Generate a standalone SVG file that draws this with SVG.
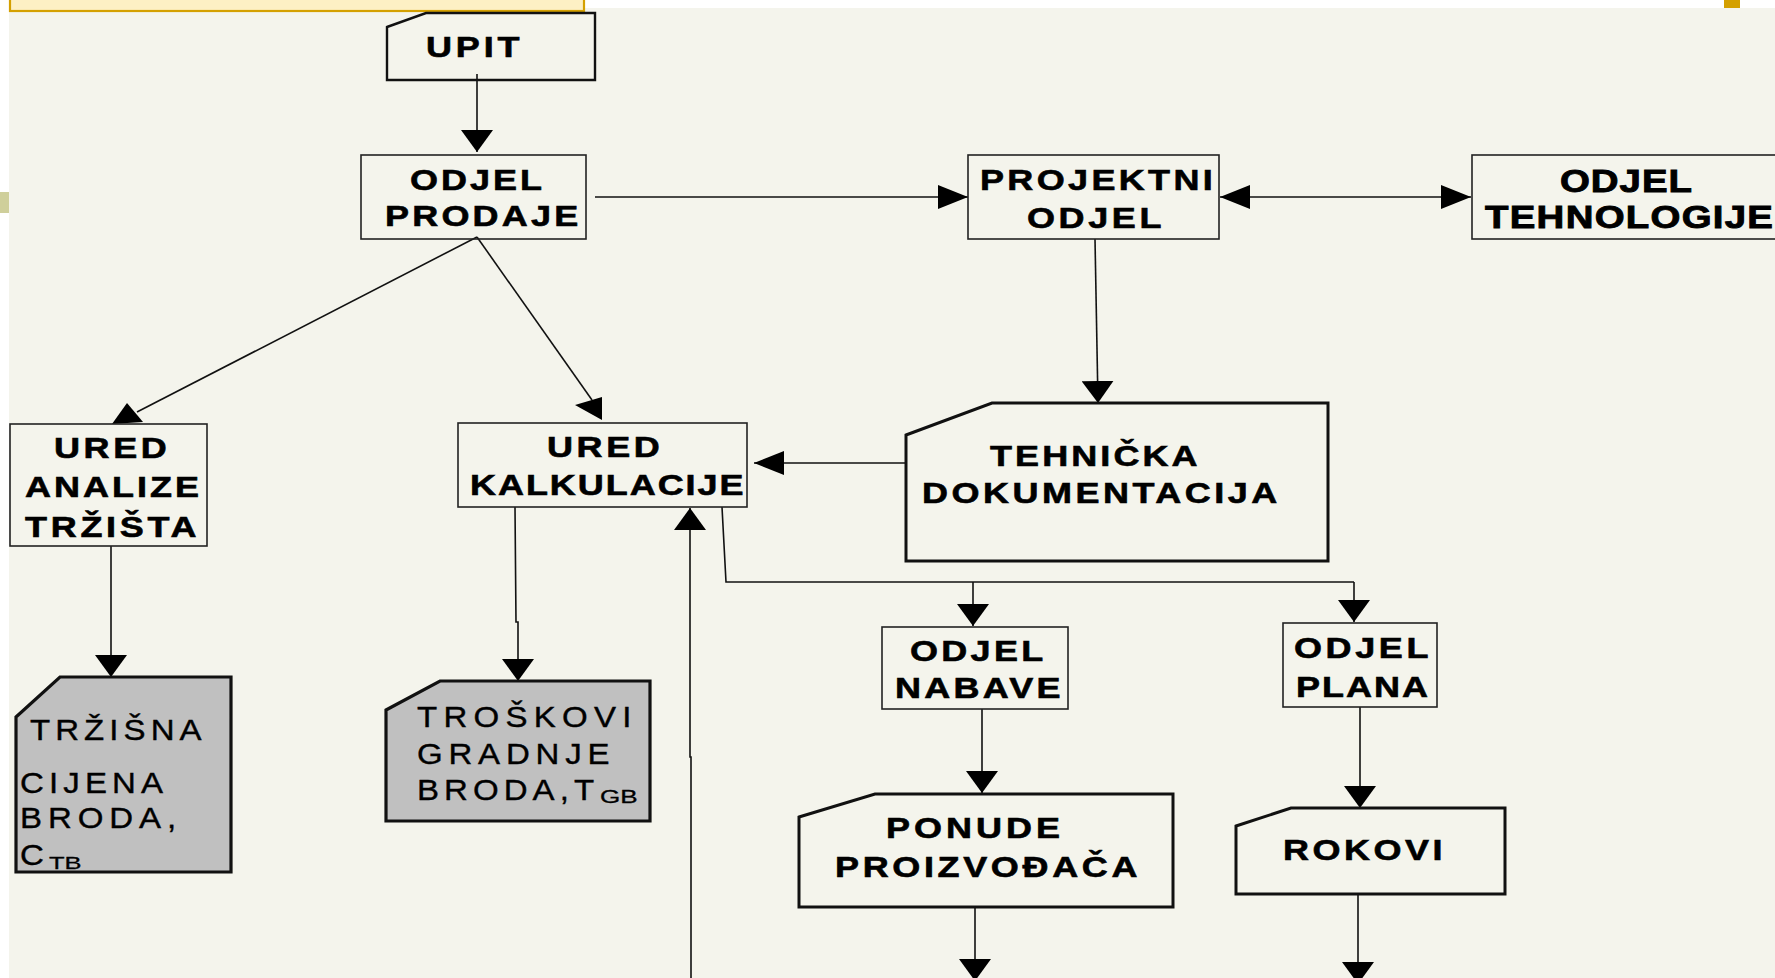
<svg xmlns="http://www.w3.org/2000/svg" width="1775" height="978" viewBox="0 0 1775 978">
<style>
.bx{fill:none;stroke:#222;stroke-width:1.6}
.doc{fill:none;stroke:#111;stroke-width:3;stroke-linejoin:miter}
.docg{fill:#c0c0c0;stroke:#111;stroke-width:3.2}
.ln{fill:none;stroke:#111;stroke-width:1.6}
.t{font-family:"Liberation Sans",Arial,sans-serif;font-weight:bold;font-size:30px;fill:#000;stroke:#000;stroke-width:0.6}
.tn{font-family:"Liberation Sans",Arial,sans-serif;font-weight:normal;font-size:30px;fill:#000;stroke:#000;stroke-width:0.4}
.sub{font-family:"Liberation Sans",Arial,sans-serif;font-size:17px;fill:#000;stroke:#000;stroke-width:0.3}
.ah{fill:#000}
</style>
<defs>
<marker id="av" markerUnits="userSpaceOnUse" viewBox="0 0 22 32" refX="22" refY="16" markerWidth="22" markerHeight="32" orient="auto"><path d="M0,0 L22,16 L0,32 z" fill="#000"/></marker>
<marker id="ahz" markerUnits="userSpaceOnUse" viewBox="0 0 30 24" refX="30" refY="12" markerWidth="30" markerHeight="24" orient="auto"><path d="M0,0 L30,12 L0,24 z" fill="#000"/></marker>
<marker id="ahzs" markerUnits="userSpaceOnUse" viewBox="0 0 30 24" refX="30" refY="12" markerWidth="30" markerHeight="24" orient="auto-start-reverse"><path d="M0,0 L30,12 L0,24 z" fill="#000"/></marker>
</defs>
<rect x="0" y="0" width="1775" height="978" fill="#ffffff"/>
<rect x="9" y="8" width="1766" height="970" fill="#f4f4ec"/>
<rect x="0" y="192" width="9" height="21" fill="#cfcf9b"/>
<rect x="1724" y="0" width="16" height="8" fill="#d4a000"/>
<rect x="10" y="-4" width="574" height="15" fill="#fdf0c4" stroke="#d4a000" stroke-width="2.2"/>

<g id="connectors">
<line class="ln" x1="477" y1="74" x2="477" y2="152" marker-end="url(#av)"/>
<line class="ln" x1="595" y1="197" x2="968" y2="197" marker-end="url(#ahz)"/>
<line class="ln" x1="1220" y1="197" x2="1471" y2="197" marker-start="url(#ahzs)" marker-end="url(#ahz)"/>
<line class="ln" x1="477" y1="237" x2="137" y2="412"/>
<polygon class="ah" points="112,424 143,422 127,403"/>
<line class="ln" x1="477" y1="237" x2="592" y2="400"/>
<polygon class="ah" points="575,405 602,397 602,420"/>
<polyline class="ln" points="1095,239 1098,403" marker-end="url(#av)"/>
<line class="ln" x1="906" y1="463" x2="754" y2="463" marker-end="url(#ahz)"/>
<line class="ln" x1="111" y1="546" x2="111" y2="677" marker-end="url(#av)"/>
<polyline class="ln" points="515,507 516,622 518,622 518,681" marker-end="url(#av)"/>
<polyline class="ln" points="691,980 691,757 690,757 690,508" marker-end="url(#av)"/>
<polyline class="ln" points="722,507 726,582 1354,582"/>
<line class="ln" x1="973" y1="582" x2="973" y2="626" marker-end="url(#av)"/>
<line class="ln" x1="1354" y1="582" x2="1354" y2="622" marker-end="url(#av)"/>
<line class="ln" x1="982" y1="709" x2="982" y2="793" marker-end="url(#av)"/>
<line class="ln" x1="1360" y1="707" x2="1360" y2="808" marker-end="url(#av)"/>
<line class="ln" x1="975" y1="907" x2="975" y2="981" marker-end="url(#av)"/>
<line class="ln" x1="1358" y1="894" x2="1358" y2="984" marker-end="url(#av)"/>
</g>

<g id="upit">
<polygon class="doc" style="stroke-width:2.4" points="387,27 426,13 595,13 595,80 387,80"/>
<text class="t" transform="translate(426,57) scale(1.2,1)" textLength="78" lengthAdjust="spacing">UPIT</text>
</g>
<g id="odjel-prodaje">
<rect class="bx" x="361" y="155" width="225" height="84"/>
<text class="t" transform="translate(410,190) scale(1.2,1)" textLength="110" lengthAdjust="spacing">ODJEL</text>
<text class="t" transform="translate(385,226) scale(1.2,1)" textLength="161" lengthAdjust="spacing">PRODAJE</text>
</g>
<g id="projektni-odjel">
<rect class="bx" x="968" y="155" width="251" height="84"/>
<text class="t" transform="translate(980,190) scale(1.2,1)" textLength="194" lengthAdjust="spacing">PROJEKTNI</text>
<text class="t" transform="translate(1027,228) scale(1.2,1)" textLength="112" lengthAdjust="spacing">ODJEL</text>
</g>
<g id="odjel-tehnologije">
<rect class="bx" x="1472" y="155" width="330" height="84"/>
<text class="t" style="font-size:32px;stroke-width:0.9" transform="translate(1560,192) scale(1.2,1)" textLength="110" lengthAdjust="spacing">ODJEL</text>
<text class="t" style="font-size:32px;stroke-width:0.9" transform="translate(1485,228) scale(1.2,1)" textLength="240" lengthAdjust="spacing">TEHNOLOGIJE</text>
</g>
<g id="ured-analize">
<rect class="bx" x="10" y="424" width="197" height="122"/>
<text class="t" transform="translate(54,458) scale(1.2,1)" textLength="94" lengthAdjust="spacing">URED</text>
<text class="t" transform="translate(25,497) scale(1.2,1)" textLength="145" lengthAdjust="spacing">ANALIZE</text>
<text class="t" transform="translate(25,537) scale(1.2,1)" textLength="143" lengthAdjust="spacing">TRŽIŠTA</text>
</g>
<g id="ured-kalkulacije">
<rect class="bx" x="458" y="423" width="289" height="84"/>
<text class="t" transform="translate(547,457) scale(1.2,1)" textLength="94" lengthAdjust="spacing">URED</text>
<text class="t" transform="translate(470,495) scale(1.2,1)" textLength="228" lengthAdjust="spacing">KALKULACIJE</text>
</g>
<g id="tehnicka-dokumentacija">
<polygon class="doc" points="906,435 992,403 1328,403 1328,561 906,561"/>
<text class="t" transform="translate(990,466) scale(1.2,1)" textLength="173" lengthAdjust="spacing">TEHNIČKA</text>
<text class="t" transform="translate(922,503) scale(1.2,1)" textLength="296" lengthAdjust="spacing">DOKUMENTACIJA</text>
</g>
<g id="trzisna-cijena">
<polygon class="docg" points="16,717 60,677 231,677 231,872 16,872"/>
<text class="tn" transform="translate(30,740) scale(1.1,1)" textLength="156" lengthAdjust="spacing">TRŽIŠNA</text>
<text class="tn" transform="translate(20,793) scale(1.1,1)" textLength="130" lengthAdjust="spacing">CIJENA</text>
<text class="tn" transform="translate(20,828) scale(1.1,1)" textLength="142" lengthAdjust="spacing">BRODA,</text>
<text class="tn" transform="translate(20,865) scale(1.1,1)">C</text>
<text class="sub" transform="translate(49,869) scale(1.5,1)">TB</text>
</g>
<g id="troskovi-gradnje">
<polygon class="docg" points="386,710 440,681 650,681 650,821 386,821"/>
<text class="tn" transform="translate(417,727) scale(1.1,1)" textLength="195" lengthAdjust="spacing">TROŠKOVI</text>
<text class="tn" transform="translate(417,764) scale(1.1,1)" textLength="175" lengthAdjust="spacing">GRADNJE</text>
<text class="tn" transform="translate(417,800) scale(1.1,1)" textLength="161" lengthAdjust="spacing">BRODA,T</text>
<text class="sub" style="font-size:18px" transform="translate(600,803) scale(1.45,1)">GB</text>
</g>
<g id="odjel-nabave">
<rect class="bx" x="882" y="627" width="186" height="82"/>
<text class="t" transform="translate(910,661) scale(1.2,1)" textLength="111" lengthAdjust="spacing">ODJEL</text>
<text class="t" transform="translate(895,698) scale(1.2,1)" textLength="138" lengthAdjust="spacing">NABAVE</text>
</g>
<g id="odjel-plana">
<rect class="bx" x="1283" y="623" width="154" height="84"/>
<text class="t" transform="translate(1294,658) scale(1.2,1)" textLength="112" lengthAdjust="spacing">ODJEL</text>
<text class="t" transform="translate(1296,697) scale(1.2,1)" textLength="110" lengthAdjust="spacing">PLANA</text>
</g>
<g id="ponude-proizvodjaca">
<polygon class="doc" points="799,817 875,794 1173,794 1173,907 799,907"/>
<text class="t" transform="translate(886,838) scale(1.2,1)" textLength="145" lengthAdjust="spacing">PONUDE</text>
<text class="t" transform="translate(835,877) scale(1.2,1)" textLength="252" lengthAdjust="spacing">PROIZVOĐAČA</text>
</g>
<g id="rokovi">
<polygon class="doc" points="1236,826 1291,808 1505,808 1505,894 1236,894"/>
<text class="t" transform="translate(1283,860) scale(1.2,1)" textLength="133" lengthAdjust="spacing">ROKOVI</text>
</g>
</svg>
